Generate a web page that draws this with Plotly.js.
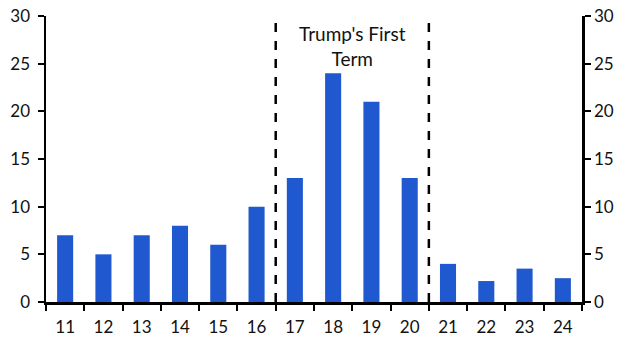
<!DOCTYPE html>
<html><head><meta charset="utf-8">
<script src="https://cdn.plot.ly/plotly-3.0.1.min.js"></script>
<style>html,body{margin:0;padding:0;background:#fff}#c{width:632px;height:357px}</style>
</head><body><div id="c"></div>
<script>
const years = ["11","12","13","14","15","16","17","18","19","20","21","22","23","24"];
const values = [7, 5, 7, 8, 6, 10, 13, 24, 21, 13, 4, 2.2, 3.5, 2.5];
const termLabel = "Trump's First<br>Term";
const termStart = 5.5, termEnd = 9.5;

const font = {family: "Lato, 'Open Sans', sans-serif", size: 17, color: "#111"};
const axCommon = {showgrid:false, zeroline:false, showline:true, linecolor:"#000", linewidth:2.5,
  ticks:"outside", ticklen:6, tickwidth:2, tickcolor:"#000", tickfont:font};

const data = [
  {type:"bar", x:years, y:values, marker:{color:"#2059cf"}, width:0.42, hoverinfo:"skip"},
  {type:"scatter", x:years, y:values, yaxis:"y2", mode:"none", showlegend:false, hoverinfo:"skip"}
];
const layout = {
  width:632, height:357, margin:{l:46, r:50, t:16, b:55},
  paper_bgcolor:"#fff", plot_bgcolor:"#fff", showlegend:false, font:font,
  xaxis: Object.assign({}, axCommon, {type:"category", tickson:"boundaries", range:[-0.5,13.5], ticklabelstandoff:8}),
  yaxis: Object.assign({}, axCommon, {range:[0,30], dtick:5, ticklabelstandoff:4}),
  yaxis2: Object.assign({}, axCommon, {range:[0,30], dtick:5, overlaying:"y", side:"right"}),
  shapes: [termStart, termEnd].map(v => ({type:"line", xref:"x", yref:"paper", x0:v, x1:v, y0:0, y1:1,
    line:{color:"#000", width:2.5, dash:"dash"}})),
  annotations: [{x:(termStart+termEnd)/2, xref:"x", y:26.9, yref:"y", text:termLabel, showarrow:false,
    font:Object.assign({}, font, {size:19}), align:"center"}]
};
Plotly.newPlot("c", data, layout, {displayModeBar:false, staticPlot:true});
</script></body></html>
